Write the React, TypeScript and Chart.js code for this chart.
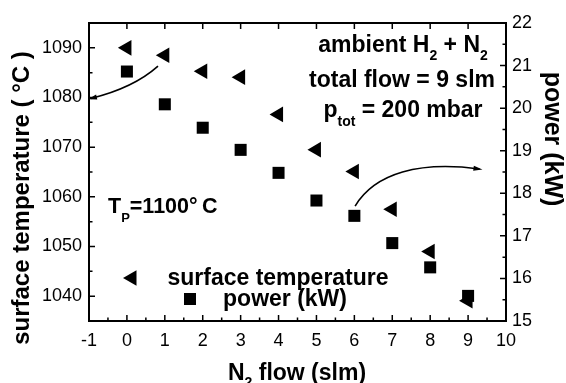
import React, { useEffect, useRef } from 'react';
import { Chart, registerables } from 'chart.js';

Chart.register(...registerables);

// ---- data ----
const flow = [0, 1, 2, 3, 4, 5, 6, 7, 8, 9];
const surfaceTemp = [1090, 1088.5, 1085.3, 1084.1, 1076.6, 1069.5, 1065.1, 1057.5, 1049.0, 1039.1];
const power = [20.86, 20.09, 19.54, 19.02, 18.48, 17.83, 17.47, 16.83, 16.26, 15.59];

const xTicks = [-1, 0, 1, 2, 3, 4, 5, 6, 7, 8, 9, 10];
const leftTicks = [1040, 1050, 1060, 1070, 1080, 1090];
const rightTicks = [15, 16, 17, 18, 19, 20, 21, 22];

const xRange = [-1, 10];
const leftRange = [1035, 1095];
const rightRange = [15, 22];

const seriesLabels = ['surface temperature', 'power (kW)'];

// arrows (data coordinates: x, y on the named axis), cubic curves
const arrowLeft = { axis: 'y', pts: [[0.82, 1086.3], [0.35, 1083.1], [-0.31, 1081.0], [-0.95, 1079.8]] };
const arrowRight = { axis: 'y2', pts: [[6.02, 17.7], [6.55, 18.48], [7.73, 18.76], [9.3, 18.57]] };

const FONT = '"Liberation Sans", Arial, Helvetica, sans-serif';

type Part = { t: string; sub?: boolean };

function drawRich(ctx: CanvasRenderingContext2D, parts: Part[], x: number, y: number, size: number, align: 'left' | 'center', subOff = 0.36) {
  const big = `bold ${size}px ${FONT}`;
  const small = `bold ${Math.round(size * 0.62)}px ${FONT}`;
  let w = 0;
  for (const p of parts) {
    ctx.font = p.sub ? small : big;
    w += ctx.measureText(p.t).width;
  }
  let cx = align === 'center' ? x - w / 2 : x;
  ctx.textAlign = 'left';
  ctx.textBaseline = 'alphabetic';
  for (const p of parts) {
    ctx.font = p.sub ? small : big;
    ctx.fillText(p.t, cx, p.sub ? y + size * subOff : y);
    cx += ctx.measureText(p.t).width;
  }
}

function drawTriangleLeft(ctx: CanvasRenderingContext2D, x: number, y: number, r: number) {
  ctx.beginPath();
  ctx.moveTo(x - r, y);
  ctx.lineTo(x + r / 2, y - r * 0.866);
  ctx.lineTo(x + r / 2, y + r * 0.866);
  ctx.closePath();
  ctx.fill();
}

const decorPlugin = {
  id: 'decor',
  afterDraw(chart: any) {
    const ctx: CanvasRenderingContext2D = chart.ctx;
    const { left, right, top, bottom } = chart.chartArea;
    const sx = chart.scales.x;
    const sy = chart.scales.y;
    const sy2 = chart.scales.y2;
    ctx.save();
    ctx.fillStyle = '#000';
    ctx.strokeStyle = '#000';

    // frame
    ctx.lineWidth = 2;
    ctx.strokeRect(left, top, right - left, bottom - top);

    // ticks (inward)
    ctx.lineWidth = 1.5;
    const maj = 6, mnr = 3.5;
    ctx.beginPath();
    for (let i = 0; i < xTicks.length; i++) {
      const px = sx.getPixelForValue(xTicks[i]);
      ctx.moveTo(px, bottom); ctx.lineTo(px, bottom - maj);
      ctx.moveTo(px, top); ctx.lineTo(px, top + maj);
      if (i < xTicks.length - 1) {
        const pm = sx.getPixelForValue((xTicks[i] + xTicks[i + 1]) / 2);
        ctx.moveTo(pm, bottom); ctx.lineTo(pm, bottom - mnr);
      }
    }
    const lstep = leftTicks[1] - leftTicks[0];
    for (const v of leftTicks) {
      const py = sy.getPixelForValue(v);
      ctx.moveTo(left, py); ctx.lineTo(left + maj, py);
      for (const m of [v - lstep / 2, v + lstep / 2]) {
        if (m > leftRange[0] && m < leftRange[1]) {
          const pm = sy.getPixelForValue(m);
          ctx.moveTo(left, pm); ctx.lineTo(left + mnr, pm);
        }
      }
    }
    for (let i = 0; i < rightTicks.length; i++) {
      const py = sy2.getPixelForValue(rightTicks[i]);
      ctx.moveTo(right, py); ctx.lineTo(right - maj, py);
      if (i < rightTicks.length - 1) {
        const pm = sy2.getPixelForValue((rightTicks[i] + rightTicks[i + 1]) / 2);
        ctx.moveTo(right, pm); ctx.lineTo(right - mnr, pm);
      }
    }
    ctx.stroke();

    // axis titles
    ctx.save();
    ctx.translate(29, 198);
    ctx.rotate(-Math.PI / 2);
    ctx.font = `bold 24px ${FONT}`;
    ctx.textAlign = 'center';
    ctx.textBaseline = 'alphabetic';
    ctx.fillText('surface temperature ( °C )', 0, 0);
    ctx.restore();

    ctx.save();
    ctx.translate(545, 139);
    ctx.rotate(Math.PI / 2);
    ctx.font = `bold 25px ${FONT}`;
    ctx.textAlign = 'center';
    ctx.textBaseline = 'alphabetic';
    ctx.fillText('power (kW)', 0, 0);
    ctx.restore();

    drawRich(ctx, [{ t: 'N' }, { t: '2', sub: true }, { t: ' flow (slm)' }], 297, 380, 23, 'center', 0.3);

    // annotations
    drawRich(ctx, [{ t: 'ambient H' }, { t: '2', sub: true }, { t: ' + N' }, { t: '2', sub: true }], 403, 52, 23, 'center');
    drawRich(ctx, [{ t: 'total flow = 9 slm' }], 402, 87, 23, 'center');
    drawRich(ctx, [{ t: 'p' }, { t: 'tot', sub: true }, { t: ' = 200 mbar' }], 403, 117, 23, 'center', 0.4);
    drawRich(ctx, [{ t: 'T' }, { t: 'P', sub: true }, { t: '=1100°\u2009C' }], 108, 213, 21.5, 'left', 0.4);

    // arrows
    ctx.lineWidth = 1.6;
    for (const a of [arrowLeft, arrowRight]) {
      const ys = chart.scales[a.axis];
      const p = a.pts.map(([vx, vy]) => [sx.getPixelForValue(vx), ys.getPixelForValue(vy)]);
      ctx.beginPath();
      ctx.moveTo(p[0][0], p[0][1]);
      ctx.bezierCurveTo(p[1][0], p[1][1], p[2][0], p[2][1], p[3][0], p[3][1]);
      ctx.stroke();
      let dx = p[3][0] - p[2][0], dy = p[3][1] - p[2][1];
      const L = Math.hypot(dx, dy); dx /= L; dy /= L;
      const hl = 9, hw = 2.6;
      const tx = p[3][0] + dx * 3, ty = p[3][1] + dy * 3;
      ctx.beginPath();
      ctx.moveTo(tx, ty);
      ctx.lineTo(tx - dx * hl - dy * hw, ty - dy * hl + dx * hw);
      ctx.lineTo(tx - dx * hl + dy * hw, ty - dy * hl - dx * hw);
      ctx.closePath();
      ctx.fill();
    }

    // legend
    drawTriangleLeft(ctx, 132, 278, 9);
    drawRich(ctx, [{ t: seriesLabels[0] }], 278, 285, 23, 'center');
    ctx.fillRect(190 - 6, 299 - 6, 12, 12);
    drawRich(ctx, [{ t: seriesLabels[1] }], 285, 306, 23, 'center');

    ctx.restore();
  },
};

export default function App() {
  const ref = useRef<HTMLCanvasElement | null>(null);
  useEffect(() => {
    if (!ref.current) return;
    const tickFont = { family: FONT, size: 18 };
    const plain = (v: any) => String(v);
    const chart = new Chart(ref.current, {
      type: 'scatter',
      data: {
        datasets: [
          {
            label: seriesLabels[0],
            data: flow.map((x, i) => ({ x, y: surfaceTemp[i] })),
            yAxisID: 'y',
            pointStyle: 'triangle',
            pointRotation: -90,
            pointRadius: 9,
            pointBackgroundColor: '#000',
            pointBorderColor: '#000',
            pointBorderWidth: 0,
            showLine: false,
          },
          {
            label: seriesLabels[1],
            data: flow.map((x, i) => ({ x, y: power[i] })),
            yAxisID: 'y2',
            pointStyle: 'rect',
            pointRadius: 8.5,
            pointBackgroundColor: '#000',
            pointBorderColor: '#000',
            pointBorderWidth: 0,
            showLine: false,
          },
        ],
      },
      options: {
        responsive: false,
        animation: false,
        events: [],
        layout: { padding: { top: 23, left: 0, right: 0, bottom: 0 } },
        plugins: { legend: { display: false }, tooltip: { enabled: false }, title: { display: false } },
        scales: {
          x: {
            type: 'linear',
            position: 'bottom',
            min: xRange[0],
            max: xRange[1],
            grid: { display: false, drawTicks: false },
            border: { display: false },
            ticks: { font: tickFont, color: '#000', padding: 9, autoSkip: false, maxRotation: 0, callback: plain },
            afterBuildTicks: (s: any) => { s.ticks = xTicks.map((v) => ({ value: v })); },
            afterFit: (s: any) => { s.height = 62; },
          },
          y: {
            type: 'linear',
            position: 'left',
            min: leftRange[0],
            max: leftRange[1],
            grid: { display: false, drawTicks: false },
            border: { display: false },
            ticks: { font: tickFont, color: '#000', padding: 7, autoSkip: false, callback: plain },
            afterBuildTicks: (s: any) => { s.ticks = leftTicks.map((v) => ({ value: v })); },
            afterFit: (s: any) => { s.width = 89; },
          },
          y2: {
            type: 'linear',
            position: 'right',
            min: rightRange[0],
            max: rightRange[1],
            grid: { display: false, drawTicks: false },
            border: { display: false },
            ticks: { font: tickFont, color: '#000', padding: 6, autoSkip: false, callback: plain },
            afterBuildTicks: (s: any) => { s.ticks = rightTicks.map((v) => ({ value: v })); },
            afterFit: (s: any) => { s.width = 60; },
          },
        },
      },
      plugins: [decorPlugin],
    } as any);
    return () => chart.destroy();
  }, []);
  return (
    <div style={{ position: 'fixed', left: 0, top: 0, width: 566, height: 383, background: '#fff' }}>
      <canvas ref={ref} width={566} height={383} style={{ width: 566, height: 383, display: 'block' }} />
    </div>
  );
}
